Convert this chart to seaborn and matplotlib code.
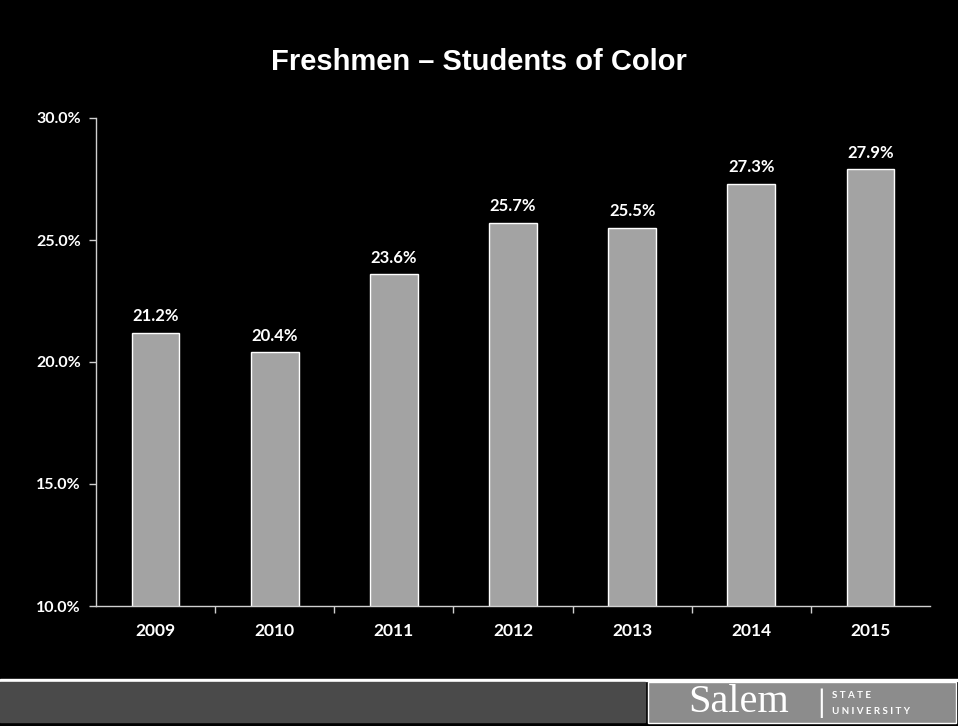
import matplotlib
matplotlib.use("Agg")
import matplotlib.pyplot as plt
import seaborn as sns
import pandas as pd
import numpy as np
from matplotlib.patches import Rectangle
from matplotlib.ticker import FuncFormatter, FixedLocator

years = ["2009", "2010", "2011", "2012", "2013", "2014", "2015"]
pct = [21.2, 20.4, 23.6, 25.7, 25.5, 27.3, 27.9]
y_ticks = [10.0, 15.0, 20.0, 25.0, 30.0]

df = pd.DataFrame({"year": years, "pct": pct})

sns.set_style("dark")
plt.rcParams["font.family"] = ["Lato", "DejaVu Sans"]

fig = plt.figure(figsize=(9.58, 7.26), dpi=100, facecolor="black")
ax = fig.add_axes([96 / 958, 1 - 606 / 726, 834 / 958, 488 / 726])
ax.set_facecolor("black")

sns.barplot(data=df, x="year", y="pct", color="#a3a3a3", width=0.4,
            edgecolor="white", linewidth=1.0, saturation=1, ax=ax)

ax.set_ylim(10, 30)
ax.set_yticks(y_ticks)
ax.yaxis.set_major_formatter(FuncFormatter(lambda v, p: f"{v:.1f}%"))
ax.set_xlim(-0.5, len(years) - 0.5)
ax.grid(False)
ax.set_xlabel("")
ax.set_ylabel("")

for s in ["top", "right"]:
    ax.spines[s].set_visible(False)
for s in ["left", "bottom"]:
    ax.spines[s].set_color("#d0d0d0")
    ax.spines[s].set_linewidth(1.0)

ax.tick_params(axis="y", colors="white", labelsize=11.5, length=5, width=1,
               direction="out", left=True, pad=6, color="#d0d0d0")
ax.tick_params(axis="x", which="major", colors="white", labelsize=12.5,
               length=0, pad=12)
ax.xaxis.set_minor_locator(FixedLocator(np.arange(0.5, len(years) - 1, 1.0)))
ax.tick_params(axis="x", which="minor", length=5, width=1, color="#d0d0d0",
               direction="out", bottom=True)
for lab in ax.get_xticklabels() + ax.get_yticklabels():
    lab.set_fontweight("bold")
    lab.set_color("white")

for i, v in enumerate(pct):
    ax.text(i, v + 0.35, f"{v:.1f}%", ha="center", va="bottom",
            color="white", fontsize=12, fontweight="bold")

fig.text(0.5, 1 - 62 / 726, "Freshmen \u2013 Students of Color", ha="center",
         va="center", color="white", fontsize=21, fontweight="bold",
         family=["Liberation Sans", "DejaVu Sans"])

# footer band
fig.add_artist(Rectangle((0, 1 - 681 / 726), 1, 2 / 726,
                         transform=fig.transFigure, color="white"))
fig.add_artist(Rectangle((0, 1 - 722 / 726), 645 / 958, 40 / 726,
                         transform=fig.transFigure, color="#4a4a4a"))
fig.add_artist(Rectangle((648 / 958, 1 - 723 / 726), 308 / 958, 41 / 726,
                         transform=fig.transFigure, color="#8c8c8c",
                         ec="white", lw=1))
fig.text(688 / 958, 1 - 703 / 726, "Salem", color="white", fontsize=29,
         va="center", ha="left", family=["Liberation Serif", "DejaVu Serif"])
fig.text(817 / 958, 1 - 703 / 726, "|", color="white", fontsize=22,
         va="center", ha="left")
fig.text(832 / 958, 1 - 696 / 726, "S T A T E", color="white", fontsize=7,
         va="center", ha="left", fontweight="bold")
fig.text(832 / 958, 1 - 711 / 726, "U N I V E R S I T Y", color="white",
         fontsize=7, va="center", ha="left", fontweight="bold")

fig.savefig("out.png", dpi=100, facecolor="black")
